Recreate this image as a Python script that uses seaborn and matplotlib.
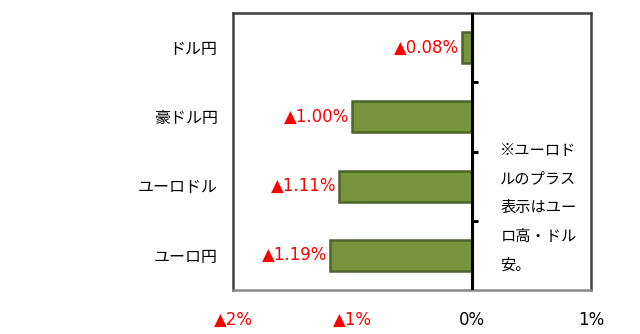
import matplotlib
matplotlib.use("Agg")
import matplotlib.pyplot as plt
import seaborn as sns
import pandas as pd

categories = ["ドル円", "豪ドル円", "ユーロドル", "ユーロ円"]
values = [-0.08, -1.00, -1.11, -1.19]
value_labels = ["▲0.08%", "▲1.00%", "▲1.11%", "▲1.19%"]
xticks = [-2, -1, 0, 1]
xtick_labels = ["▲2%", "▲1%", "0%", "1%"]
note = "※ユーロド\nルのプラス\n表示はユー\nロ高・ドル\n安。"

sns.set_theme(style="white")
plt.rcParams["font.family"] = ["DejaVu Sans", "Noto Sans CJK JP"]
cjk = ["Noto Sans CJK JP", "DejaVu Sans"]

df = pd.DataFrame({"pair": categories, "value": values})

fig = plt.figure(figsize=(6.4, 3.34), dpi=100)
ax = fig.add_axes([233 / 640, 1 - 290 / 334, (591 - 233) / 640, (290 - 13) / 334])

sns.barplot(data=df, x="value", y="pair", orient="h", color="#77933C",
            saturation=1, width=0.45, edgecolor="#4F6228", linewidth=1.8, ax=ax)

ax.set_xlim(-2, 1)
ax.set_ylim(3.5, -0.5)
ax.set_xlabel("")
ax.set_ylabel("")

ax.set_xticks(xticks)
ax.set_xticklabels(xtick_labels, fontsize=12)
for lab, v in zip(ax.get_xticklabels(), xticks):
    lab.set_color("#FF0000" if v < 0 else "black")
ax.tick_params(axis="x", direction="in", length=5, width=1.5, color="#888888", pad=15)
ax.tick_params(axis="y", length=0, pad=11, labelsize=11.5, labelcolor="black")
for lab in ax.get_yticklabels():
    lab.set_family(cjk)

for s in ["top", "left", "right"]:
    ax.spines[s].set_color("#404040")
    ax.spines[s].set_linewidth(1.8)
ax.spines["bottom"].set_color("#888888")
ax.spines["bottom"].set_linewidth(1.8)

ax.axvline(0, color="black", lw=2.2, zorder=5)
ax.hlines([0.5, 1.5, 2.5], 0, 0.05, color="black", lw=2.2, zorder=5)

for i, (v, t) in enumerate(zip(values, value_labels)):
    ax.annotate(t, xy=(v, i), xytext=(-2, 0), textcoords="offset points",
                ha="right", va="center", color="#FF0000", fontsize=12)

ax.text(0.24, 1.36, note, transform=ax.transData, ha="left", va="top",
        fontsize=11, linespacing=1.9, color="black", family=cjk)

fig.savefig("out.png", dpi=100)
